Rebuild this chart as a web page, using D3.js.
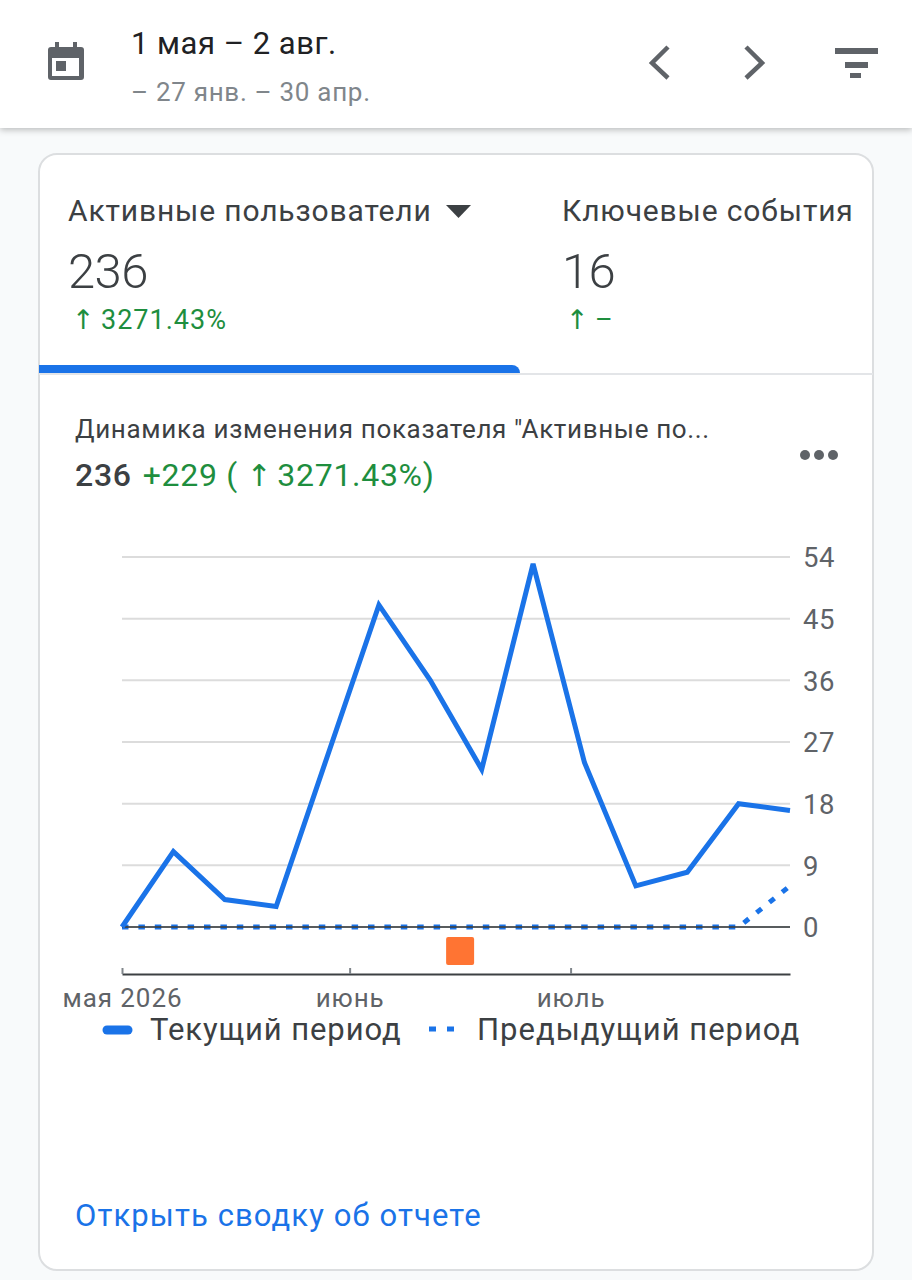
<!DOCTYPE html>
<html><head><meta charset="utf-8">
<script src="https://cdn.jsdelivr.net/npm/d3@7"></script>
<style>html,body{margin:0;padding:0;background:#fff}svg{display:block}text{font-family:Roboto,sans-serif}</style>
</head><body><div id="c"></div>
<script>
const weeks=[0,1,2,3,4,5,6,7,8,9,10,11,12,13];
const currentPeriod=[0,11,4,3,25,47,36,23,53,24,6,8,18,17];
const previousPeriod=[0,0,0,0,0,0,0,0,0,0,0,0,0,6];
const yTicks=[0,9,18,27,36,45,54];
const monthTicks=[{at:0,label:"мая 2026"},{at:4.43,label:"июнь"},{at:8.73,label:"июль"}];
const annotationAt=[6.58];

const W=912,H=1280;
const blue="#1a73e8",green="#1e8e3e",grey="#5f6368",dark="#3c4043";
const arrowFont="'DejaVu Sans',sans-serif";
const svg=d3.select("#c").append("svg").attr("width",W).attr("height",H).attr("viewBox",`0 0 ${W} ${H}`);
const defs=svg.append("defs");
const f=defs.append("filter").attr("id","sh").attr("x","-5%").attr("y","-20%").attr("width","110%").attr("height","140%");
f.append("feDropShadow").attr("dx",0).attr("dy",2).attr("stdDeviation",3).attr("flood-color","#000").attr("flood-opacity",.25);

function T(x,y,s,size,fill,o={}){
  return svg.append("text").attr("x",x).attr("y",y).attr("font-size",size).attr("fill",fill)
    .attr("font-weight",o.w||400).attr("text-anchor",o.a||"start").attr("letter-spacing",o.ls||0).text(s);
}
svg.append("rect").attr("width",W).attr("height",H).attr("fill","#f8fafb");
svg.append("rect").attr("x",39).attr("y",154).attr("width",834).attr("height",1116).attr("rx",18).attr("fill","#fff").attr("stroke","#dcdee0").attr("stroke-width",2);
svg.append("rect").attr("width",W).attr("height",128).attr("fill","#fff").attr("filter","url(#sh)");

// header icons
const cal=svg.append("g").attr("fill",grey);
cal.append("path").attr("fill-rule","evenodd").attr("d","M48 50a3 3 0 0 1 3-3h4v-5h4v5h14v-5h4v5h4a3 3 0 0 1 3 3v27a3 3 0 0 1-3 3H51a3 3 0 0 1-3-3zM52 58v18h27V58z");
cal.append("rect").attr("x",56).attr("y",61).attr("width",10).attr("height",10);
svg.append("path").attr("d","M668 47L652 63L668 78M746 47L762 63L746 78").attr("fill","none").attr("stroke",grey).attr("stroke-width",4.5);
svg.append("path").attr("d","M835 48h43v6h-43zM845 62h23v6h-23zM850 73h11v5h-11z").attr("fill",grey);
T(131,54,"1 мая – 2 авг.",31,"#202124",{ls:.5});
T(131,101,"– 27 янв. – 30 апр.",26,"#80868b",{ls:.7});

// scorecards
T(68,221,"Активные пользователи",30,dark,{ls:.85});
svg.append("path").attr("d","M446 205h25l-12.5 13z").attr("fill",dark);
T(562,221,"Ключевые события",30,dark,{ls:.85});
T(68,288,"236",49,dark,{w:300,ls:-.6});
T(562,288,"16",49,dark,{w:300,ls:-.6});
function delta(x,s){
  T(x,329,"↑",27,green).style("font-family",arrowFont);
  T(x+29,329,s,27,green,{ls:1});
}
delta(72,"3271.43%");
delta(566,"–");
svg.append("line").attr("x1",39).attr("x2",873).attr("y1",374).attr("y2",374).attr("stroke","#e3e5e8").attr("stroke-width",2);
svg.append("path").attr("d","M39 373V365H512a8 8 0 0 1 8 8z").attr("fill",blue);

// chart title
T(75,438,"Динамика изменения показателя \"Активные по...",26,dark,{ls:.65});
const h=T(75,486,"",32,dark,{ls:.7});
h.append("tspan").attr("font-weight",500).text("236");
h.append("tspan").attr("fill",green).attr("dx",11).text("+229 ( ");
h.append("tspan").attr("fill",green).style("font-family",arrowFont).attr("font-size",30).text("↑");
h.append("tspan").attr("fill",green).attr("dx",5).text("3271.43%)");
svg.append("g").attr("fill",grey).selectAll("circle").data([0,1,2]).join("circle")
  .attr("cx",d=>805+d*14).attr("cy",455).attr("r",5);

// chart
const x=d3.scaleLinear().domain([0,13]).range([122,790]);
const y=d3.scaleLinear().domain([0,54]).range([927,557]);
svg.append("g").selectAll("line").data(yTicks.filter(d=>d>0)).join("line")
  .attr("x1",122).attr("x2",790).attr("y1",d=>y(d)).attr("y2",d=>y(d)).attr("stroke","#dcdcdc").attr("stroke-width",2);
const yAxis=svg.append("g").attr("transform","translate(803,1)").call(d3.axisRight(y).tickValues(yTicks).tickSize(0).tickPadding(0));
yAxis.select(".domain").remove();
yAxis.selectAll("text").attr("font-size",27.5).attr("fill",grey).style("font-family","Roboto,sans-serif").attr("letter-spacing",.5);

const line=d3.line().x((d,i)=>x(weeks[i])).y(d=>y(d));
svg.append("path").datum(previousPeriod).attr("d",line).attr("fill","none").attr("stroke",blue).attr("stroke-width",5).attr("stroke-dasharray","6.5 9.9");
svg.append("line").attr("x1",122).attr("x2",790).attr("y1",y(0)).attr("y2",y(0)).attr("stroke","#3c4043").attr("stroke-width",2).attr("opacity",.85);
svg.append("path").datum(currentPeriod).attr("d",line).attr("fill","none").attr("stroke",blue).attr("stroke-width",5).attr("stroke-linejoin","miter");

svg.append("g").selectAll("rect").data(annotationAt).join("rect")
  .attr("x",d=>x(d)-14).attr("y",937).attr("width",28).attr("height",28).attr("rx",2).attr("fill","#ff7433");

const xAxis=svg.append("g").attr("transform","translate(0,974)")
  .call(d3.axisBottom(x).tickValues(monthTicks.map(d=>d.at)).tickFormat(d=>monthTicks.find(m=>m.at===d).label).tickSize(-6).tickSizeOuter(0).tickPadding(15));
xAxis.select(".domain").attr("stroke","#3c4043").attr("stroke-width",2);
xAxis.selectAll("line").attr("stroke","#80868b").attr("stroke-width",2);
xAxis.selectAll("text").attr("font-size",26).attr("fill",grey).style("font-family","Roboto,sans-serif").attr("letter-spacing",.9);

// legend
svg.append("line").attr("x1",107).attr("x2",128).attr("y1",1030).attr("y2",1030).attr("stroke",blue).attr("stroke-width",9).attr("stroke-linecap","round");
T(150,1040,"Текущий период",31,dark,{ls:.9});
svg.append("line").attr("x1",429).attr("x2",454).attr("y1",1029).attr("y2",1029).attr("stroke",blue).attr("stroke-width",5).attr("stroke-dasharray","7 11");
T(477,1040,"Предыдущий период",31,dark,{ls:1});

T(75,1226,"Открыть сводку об отчете",31,blue,{ls:1.1});
</script></body></html>
